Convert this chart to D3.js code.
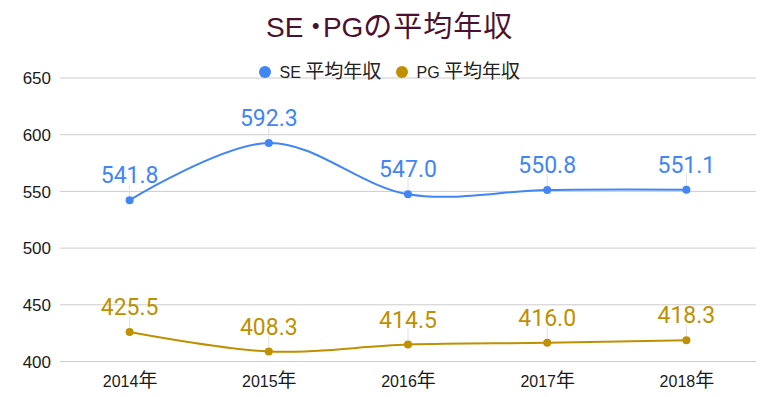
<!DOCTYPE html>
<html>
<head>
<meta charset="utf-8">
<script src="https://cdn.jsdelivr.net/npm/d3@7"></script>
<style>
html,body{margin:0;padding:0;background:#fff;}
svg{display:block;}
</style>
</head>
<body>
<svg id="chart" width="778" height="397"></svg>
<script>
const titleParts = ["SE", "・", "PG", "の平均年収"];
const years = ["2014", "2015", "2016", "2017", "2018"];
const yearSuffix = "年";
const seriesLatin = ["SE", "PG"];
const seriesSuffix = "平均年収";
const seValues = [541.8, 592.3, 547.0, 550.8, 551.1];
const pgValues = [425.5, 408.3, 414.5, 416.0, 418.3];
const yTicks = [400, 450, 500, 550, 600, 650];
const colors = ["#4285f4", "#bf9000"];

(function () {
const svg = d3.select("#chart");
const W = 778, H = 397;
const pLeft = 60, pRight = 756, pTop = 77.5, pBottom = 361;
const LATIN = "Arial, 'Liberation Sans', sans-serif";
const CJK = "'Noto Sans CJK JP', sans-serif";

svg.append("rect").attr("width", W).attr("height", H).attr("fill", "#fff");

const x = d3.scalePoint().domain(years).range([pLeft, pRight]).padding(0.5);
const y = d3.scaleLinear().domain([400, 650]).range([pBottom, pTop]);

// gridlines + y labels
const yAxis = d3.axisLeft(y).tickValues(yTicks).tickSize(-(pRight - pLeft)).tickFormat(d => d);
const gy = svg.append("g").attr("transform", `translate(${pLeft},0)`).call(yAxis);
gy.select(".domain").remove();
gy.selectAll(".tick line").attr("stroke", "#cccccc").attr("stroke-width", 1);
gy.selectAll(".tick text")
  .attr("x", -9)
  .attr("dy", "0.36em")
  .attr("fill", "#1a1a1a")
  .style("font-family", LATIN)
  .style("font-size", "17px");

// x axis labels
const xAxis = d3.axisBottom(x).tickSize(0);
const gx = svg.append("g").attr("transform", `translate(0,${pBottom})`).call(xAxis);
gx.select(".domain").remove();
gx.selectAll(".tick text").each(function (d) {
  const t = d3.select(this);
  t.text(null).attr("y", 26).attr("dy", 0).attr("fill", "#1a1a1a");
  t.append("tspan").style("font-family", LATIN).style("font-size", "16px").text(d);
  t.append("tspan").style("font-family", CJK).style("font-size", "19px").text(yearSuffix);
});

// title
const title = svg.append("text")
  .attr("x", 266).attr("y", 37)
  .attr("fill", "#4c1130");
title.append("tspan").style("font-family", LATIN).style("font-size", "28px").text(titleParts[0]);
title.append("tspan").attr("dx", -1.5).style("font-family", CJK).style("font-size", "28px").style("letter-spacing", "-7px").text(titleParts[1]);
title.append("tspan").style("font-family", LATIN).style("font-size", "28px").text(titleParts[2]);
title.append("tspan").style("font-family", CJK).style("font-size", "29px").style("letter-spacing", "1px").text(titleParts[3]);

// legend
const legendX = [265, 402];
seriesLatin.forEach((name, i) => {
  svg.append("circle").attr("cx", legendX[i]).attr("cy", 72).attr("r", 6).attr("fill", colors[i]);
  const t = svg.append("text")
    .attr("x", legendX[i] + 14.5).attr("y", 78)
    .attr("fill", "#222");
  t.append("tspan").style("font-family", LATIN).style("font-size", "16px").text(name + " ");
  t.append("tspan").style("font-family", CJK).style("font-size", "19px").text(seriesSuffix);
});

const line = d3.line()
  .x((d, i) => x(years[i]))
  .y(d => y(d))
  .curve(d3.curveCatmullRom.alpha(0.5));

[seValues, pgValues].forEach((vals, si) => {
  const g = svg.append("g");
  g.selectAll("line.lead").data(vals).enter().append("line")
    .attr("class", "lead")
    .attr("x1", (d, i) => x(years[i])).attr("x2", (d, i) => x(years[i]))
    .attr("y1", d => y(d) - 4).attr("y2", d => y(d) - 16)
    .attr("stroke", "#e0e0e0").attr("stroke-width", 1);
  g.append("path").datum(vals)
    .attr("d", line)
    .attr("fill", "none")
    .attr("stroke", colors[si])
    .attr("stroke-width", 2);
  g.selectAll("circle").data(vals).enter().append("circle")
    .attr("cx", (d, i) => x(years[i]))
    .attr("cy", d => y(d))
    .attr("r", 4)
    .attr("fill", colors[si]);
  g.selectAll("text").data(vals).enter().append("text")
    .attr("x", (d, i) => x(years[i]))
    .attr("y", d => y(d) - 17)
    .attr("text-anchor", "middle")
    .attr("fill", colors[si])
    .style("font-family", "Roboto, sans-serif")
    .style("font-size", "23px")
    .text(d => d.toFixed(1));
});
})();
</script>
</body>
</html>
